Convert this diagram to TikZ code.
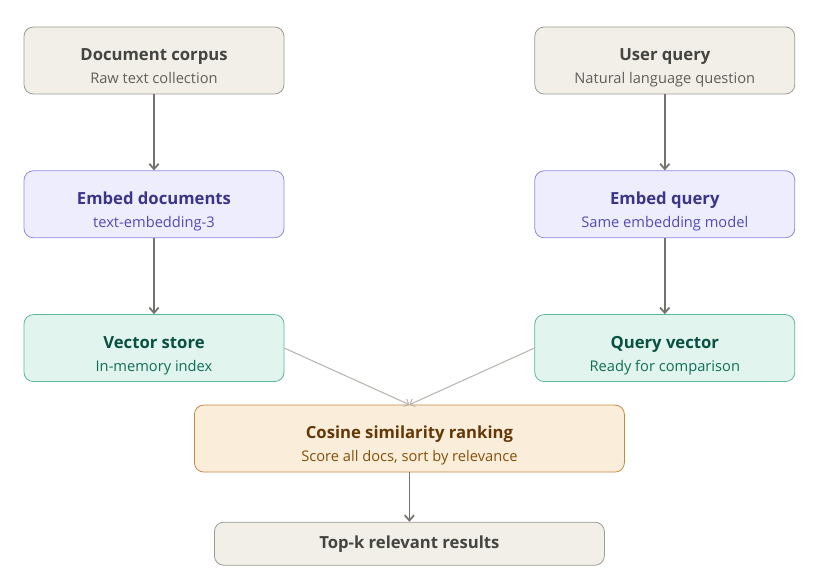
\documentclass[tikz,border=0pt]{standalone}
\usepackage{fontspec}
\setmainfont{Open Sans}
\usetikzlibrary{arrows.meta,positioning,calc}
\definecolor{grayfill}{HTML}{F1EFE8}
\definecolor{graydraw}{HTML}{9C9A92}
\definecolor{graytitle}{HTML}{444441}
\definecolor{graysub}{HTML}{5F5E5A}
\definecolor{purfill}{HTML}{EEEDFE}
\definecolor{purdraw}{HTML}{8F88E0}
\definecolor{purtitle}{HTML}{3C3489}
\definecolor{pursub}{HTML}{534AB7}
\definecolor{grnfill}{HTML}{E1F5EE}
\definecolor{grndraw}{HTML}{5DB895}
\definecolor{grntitle}{HTML}{085041}
\definecolor{grnsub}{HTML}{0F6E56}
\definecolor{orgfill}{HTML}{FAEEDA}
\definecolor{orgdraw}{HTML}{C28A45}
\definecolor{orgtitle}{HTML}{633806}
\definecolor{orgsub}{HTML}{854F0B}
\definecolor{arrowgray}{HTML}{73726C}
\definecolor{linegray}{HTML}{B8B6AE}

\newcommand{\boxtext}[2]{\rule{0pt}{21pt}{\bfseries #1}\\{\fontsize{11}{17.25}\selectfont #2\rule[-3.5pt]{0pt}{1pt}}}

\begin{document}
\begin{tikzpicture}[x=0.75pt, y=-0.75pt, node distance=57pt,
    card/.style={draw, rounded corners=7pt, line width=0.6pt, align=center,
      minimum width=195pt, minimum height=50.25pt, inner sep=2pt,
      font=\fontsize{12.5}{17.25}\selectfont},
    graycard/.style={card, fill=grayfill, draw=graydraw, text=graytitle},
    purcard/.style={card, fill=purfill, draw=purdraw, text=purtitle},
    grncard/.style={card, fill=grnfill, draw=grndraw, text=grntitle},
    orgcard/.style={card, fill=orgfill, draw=orgdraw, text=orgtitle},
    flow/.style={->, >={Straight Barb[length=4pt,width=7pt]}, draw=arrowgray, line width=1.3pt},
    merge/.style={->, >={Straight Barb[length=3pt,width=6pt]}, draw=linegray, line width=0.8pt}]
  \useasboundingbox (0,0) rectangle (814,584);

  % left column
  \node[graycard] (docs) at (154,60.5) {\boxtext{Document corpus}{\color{graysub}Raw text collection}};
  \node[purcard, below=of docs] (embdocs) {\boxtext{Embed documents}{\color{pursub}text-embedding-3}};
  \node[grncard, below=of embdocs] (store) {\boxtext{Vector store}{\color{grnsub}In-memory index}};

  % right column
  \node[graycard, right=187.5pt of docs] (query) {\boxtext{User query}{\color{graysub}Natural language question}};
  \node[purcard, below=of query] (embquery) {\boxtext{Embed query}{\color{pursub}Same embedding model}};
  \node[grncard, below=of embquery] (qvec) {\boxtext{Query vector}{\color{grnsub}Ready for comparison}};

  % ranking
  \coordinate (mid) at ($(store.south)!0.5!(qvec.south)$);
  \node[orgcard, minimum width=322.5pt, below=17pt of mid] (rank) {\boxtext{Cosine similarity ranking}{\color{orgsub}Score all docs, sort by relevance}};
  \node[graycard, minimum width=292.5pt, minimum height=32.25pt, below=37pt of rank] (topk)
    {\bfseries Top-k relevant results};

  \draw[flow] (docs) -- (embdocs);
  \draw[flow] (embdocs) -- (store);
  \draw[flow] (query) -- (embquery);
  \draw[flow] (embquery) -- (qvec);
  \draw[merge] (store.east) -- (rank.north);
  \draw[merge] (qvec.west) -- (rank.north);
  \draw[flow] (rank) -- (topk);
\end{tikzpicture}
\end{document}
